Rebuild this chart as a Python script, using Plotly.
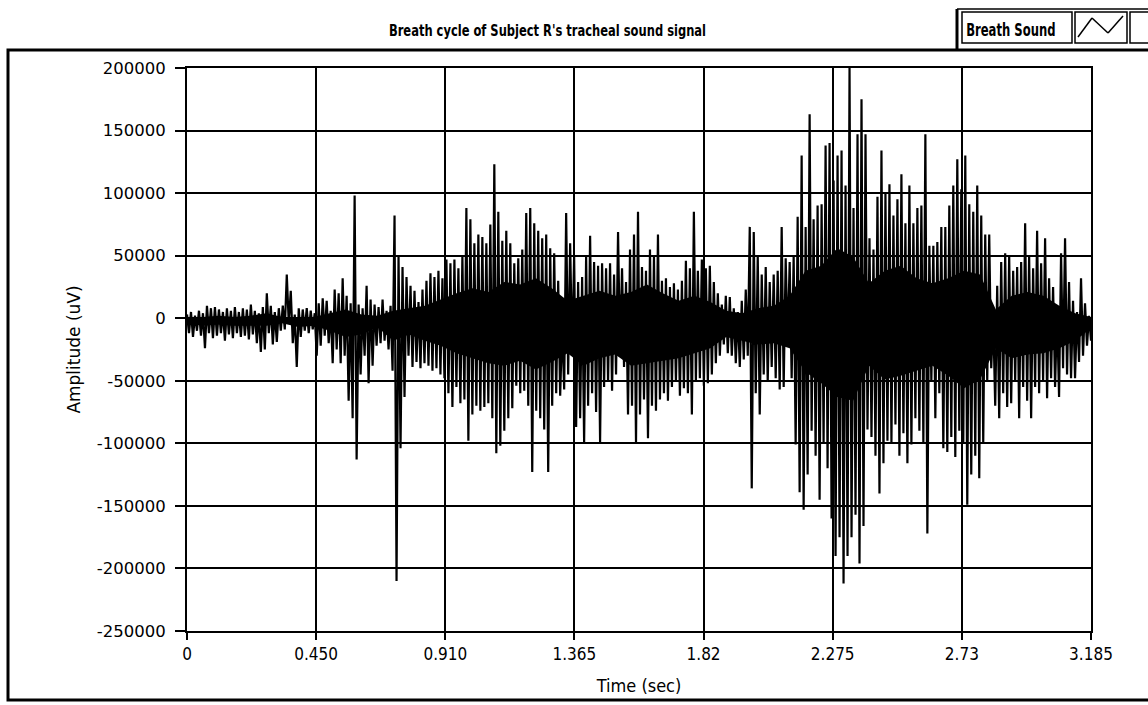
import numpy as np
import plotly.graph_objects as go

# Upper and lower excursions of the tracheal sound signal, in thousands of uV,
# one pair per display column, in time order from 0 to 3.185 s.
upper_k = [
    3, 5, 2, 6, 4, 10, 8, 9, 7, 5,
    8, 6, 9, 5, 8, 7, 11, 6, 4, 9,
    20, 10, 5, 8, 10, 35, 22, 3, 8, 7,
    8, 6, 4, 12, 16, 14, 6, 23, 20, 32,
    18, 12, 98, 11, 8, 26, 15, 11, 9, 15,
    6, 10, 82, 50, 41, 33, 26, 22, 13, 23,
    30, 36, 33, 38, 32, 47, 44, 47, 40, 50,
    88, 79, 60, 67, 65, 60, 75, 123, 85, 62,
    70, 60, 44, 48, 55, 84, 88, 76, 70, 64,
    67, 56, 52, 30, -5, 84, 60, 50, 29, 33,
    50, 66, 45, 42, 44, 40, 44, 35, 69, 40,
    29, 55, 67, 85, 41, 38, 55, 50, 67, 30,
    32, 25, 28, 23, 30, 46, 40, 85, 38, 47,
    40, 42, 29, 20, 11, 18, 17, 8, 5, 14,
    23, 73, 69, 50, 35, 41, 29, 35, 38, 73,
    48, 45, 50, 81, 130, 73, 163, 79, 90, 91,
    138, 140, 110, 130, 134, 106, 200, 88, 147, 175,
    147, 64, 55, 97, 134, 100, 107, 82, 95, 115,
    76, 106, 76, 88, 90, 147, 58, 58, 61, 73,
    73, 90, 106, 127, 103, 130, 91, 85, 106, 82,
    67, 67, 0, 26, 45, 52, 50, 38, 41, 45,
    76, 50, 40, 70, 44, 64, 32, 25, 5, 52,
    64, 29, 14, 5, 32, 12, 2,
]
lower_k = [
    -12, -15, -10, -14, -24, -12, -16, -14, -12, -18,
    -13, -16, -12, -15, -14, -17, -13, -20, -27, -25,
    -12, -21, -19, -10, -9, -4, -20, -39, -15, -10,
    -12, -9, -30, -22, -14, -20, -36, -25, -36, -30,
    -66, -80, -113, -45, -30, -52, -38, -22, -20, -18,
    -25, -42, -210, -104, -63, -30, -39, -35, -40, -36,
    -38, -42, -40, -45, -48, -60, -71, -55, -68, -65,
    -98, -77, -70, -74, -71, -68, -80, -108, -102, -90,
    -80, -72, -54, -60, -58, -70, -123, -74, -80, -89,
    -123, -70, -60, -62, -57, -45, -30, -87, -80, -99,
    -70, -60, -75, -99, -55, -51, -58, -45, -30, -39,
    -77, -70, -99, -77, -65, -96, -70, -74, -65, -60,
    -66, -55, -51, -62, -56, -60, -77, -50, -48, -54,
    -52, -45, -36, -30, -21, -28, -30, -36, -39, -33,
    -30, -136, -60, -77, -45, -51, -39, -48, -57, -55,
    -21, -48, -101, -139, -153, -125, -90, -110, -145, -100,
    -120, -160, -190, -175, -212, -190, -175, -157, -196, -166,
    -89, -95, -110, -140, -116, -98, -100, -85, -110, -92,
    -116, -101, -80, -90, -100, -172, -51, -80, -60, -104,
    -107, -95, -111, -90, -100, -149, -125, -110, -128, -100,
    -51, -40, -70, -80, -60, -71, -68, -50, -80, -55,
    -66, -80, -55, -60, -50, -64, -48, -55, -63, -40,
    -45, -48, -48, -35, -30, -22, -18,
]

# Limits of the solid, densely oscillating core of the signal (thousands of uV),
# sampled at 58 evenly spaced instants over the same 0-3.185 s span.
core_upper_k = [1, 1, 2, 1, 2, 4, 1, 1, 1, 4,
                7, 3, 2, 6, 8, 10, 15, 20, 24, 21,
                29, 27, 32, 24, 14, 18, 22, 18, 21, 27,
                20, 14, 18, 13, 6, 4, 8, 10, 18, 38,
                42, 56, 49, 28, 38, 42, 32, 28, 32, 38,
                35, 7, 18, 21, 18, 10, 4, 1]
core_lower_k = [-4, -6, -5, -6, -6, -6, -4, -7, -6, -10,
                -15, -13, -7, -18, -13, -18, -22, -28, -32, -36,
                -38, -34, -41, -35, -28, -38, -32, -29, -38, -36,
                -34, -32, -28, -24, -15, -18, -21, -20, -24, -43,
                -52, -63, -66, -38, -49, -46, -42, -38, -46, -56,
                -49, -24, -32, -29, -28, -24, -18, -8]

x_tick_vals = [0, 0.455, 0.910, 1.365, 1.820, 2.275, 2.730, 3.185]
x_tick_text = ["0", "0.450", "0.910", "1.365", "1.82", "2.275", "2.73", "3.185"]
y_tick_vals = [200000, 150000, 100000, 50000, 0, -50000, -100000, -150000, -200000, -250000]
y_tick_text = ["200000", "150000", "100000", "50000", "0", "-50000",
               "-100000", "-150000", "-200000", "-250000"]

# interleave the excursions into one trace sampled evenly over the breath cycle
n_cols = len(upper_k)
amplitude = np.empty(2 * n_cols)
amplitude[0::2] = np.array(upper_k) * 1000
amplitude[1::2] = np.array(lower_k) * 1000
time_s = np.linspace(0, 3.185, 2 * n_cols)

core_time = np.linspace(0, 3.185, len(core_upper_k))
core_hi = np.array(core_upper_k) * 1000
core_lo = np.array(core_lower_k) * 1000

W, H = 1148, 705
L, R, T, B = 187, 1091, 68, 631  # plot area in page pixels


def px(x):
    return (x - L) / (R - L)


def py(y):
    return (B - y) / (B - T)


NARROW = "Liberation Sans Narrow, DejaVu Sans Condensed, Arial Narrow, sans-serif"
SANS = "DejaVu Sans, Verdana, sans-serif"

fig = go.Figure()
# solid core of the waveform
fig.add_trace(go.Scatter(
    x=core_time, y=core_lo, mode="lines", line=dict(color="black", width=0),
    showlegend=False, hoverinfo="skip",
))
fig.add_trace(go.Scatter(
    x=core_time, y=core_hi, mode="lines", line=dict(color="black", width=0),
    fill="tonexty", fillcolor="black", showlegend=False, hoverinfo="skip",
))
fig.add_trace(go.Scatter(
    x=time_s, y=amplitude, mode="lines", name="Breath Sound",
    line=dict(color="black", width=2.2), showlegend=False,
))

shapes = [
    # outer panel frame
    dict(type="rect", xref="paper", yref="paper", x0=px(8), x1=px(1160), y0=py(700), y1=py(50),
         line=dict(color="black", width=3)),
    # legend frame
    dict(type="line", xref="paper", yref="paper", x0=px(957), x1=px(957), y0=py(50), y1=py(9),
         line=dict(color="black", width=3)),
    dict(type="line", xref="paper", yref="paper", x0=px(957), x1=px(1160), y0=py(9), y1=py(9),
         line=dict(color="black", width=1.5)),
    dict(type="rect", xref="paper", yref="paper", x0=px(962), x1=px(1072), y0=py(43), y1=py(12),
         line=dict(color="black", width=1.5)),
    dict(type="rect", xref="paper", yref="paper", x0=px(1075), x1=px(1127), y0=py(43), y1=py(12),
         line=dict(color="black", width=1.5)),
    dict(type="rect", xref="paper", yref="paper", x0=px(1130), x1=px(1170), y0=py(43), y1=py(12),
         line=dict(color="black", width=1.5)),
]
# legend line sample
icon_pts = [(1078, 37), (1092, 18), (1108, 33), (1123, 16)]
for (xa, ya), (xb, yb) in zip(icon_pts[:-1], icon_pts[1:]):
    shapes.append(dict(type="line", xref="paper", yref="paper",
                       x0=px(xa), y0=py(ya), x1=px(xb), y1=py(yb),
                       line=dict(color="black", width=1.5)))

annotations = [
    dict(text="<b>Breath cycle of Subject R's tracheal sound signal</b>", xref="paper", yref="paper",
         x=px(547), y=py(31), showarrow=False, xanchor="center", yanchor="middle",
         font=dict(family=NARROW, size=16, color="black")),
    dict(text="<b>Breath Sound</b>", xref="paper", yref="paper",
         x=px(1011), y=py(30), showarrow=False, xanchor="center", yanchor="middle",
         font=dict(family=NARROW, size=17, color="black")),
]

fig.update_layout(
    width=W, height=H,
    margin=dict(l=L, r=W - R, t=T, b=H - B, pad=0),
    paper_bgcolor="white", plot_bgcolor="white",
    shapes=shapes, annotations=annotations,
    xaxis=dict(
        range=[0, 3.185], tickmode="array", tickvals=x_tick_vals, ticktext=x_tick_text,
        showgrid=True, gridcolor="black", gridwidth=1.5, zeroline=False,
        showline=True, linecolor="black", linewidth=2, mirror=True,
        ticks="outside", ticklen=7, tickwidth=1.5, tickcolor="black",
        tickfont=dict(family=NARROW, size=17, color="black"),
        title=dict(text="Time (sec)", font=dict(family=NARROW, size=18, color="black"), standoff=16),
    ),
    yaxis=dict(
        range=[-250000, 200000], tickmode="array", tickvals=y_tick_vals, ticktext=y_tick_text,
        showgrid=True, gridcolor="black", gridwidth=1.5, zeroline=False,
        showline=True, linecolor="black", linewidth=2, mirror=True,
        ticks="outside", ticklen=10, tickwidth=1.5, tickcolor="black",
        ticklabelstandoff=6,
        tickfont=dict(family=SANS, size=16.5, color="black"),
        title=dict(text="Amplitude (uV)", font=dict(family=SANS, size=17, color="black"), standoff=12),
    ),
)

# the panel captions use a condensed face: squeeze them horizontally about their centres
condense_text = """
document.querySelectorAll('.annotation-text').forEach(function (t) {
    var s = t.textContent.indexOf('Breath Sound') === 0 ? 0.76 : 0.8;
    t.style.transformBox = 'fill-box';
    t.style.transformOrigin = 'center';
    t.style.transform = 'scaleX(' + s + ')';
});
"""

fig.write_html("out.html", post_script=condense_text)
